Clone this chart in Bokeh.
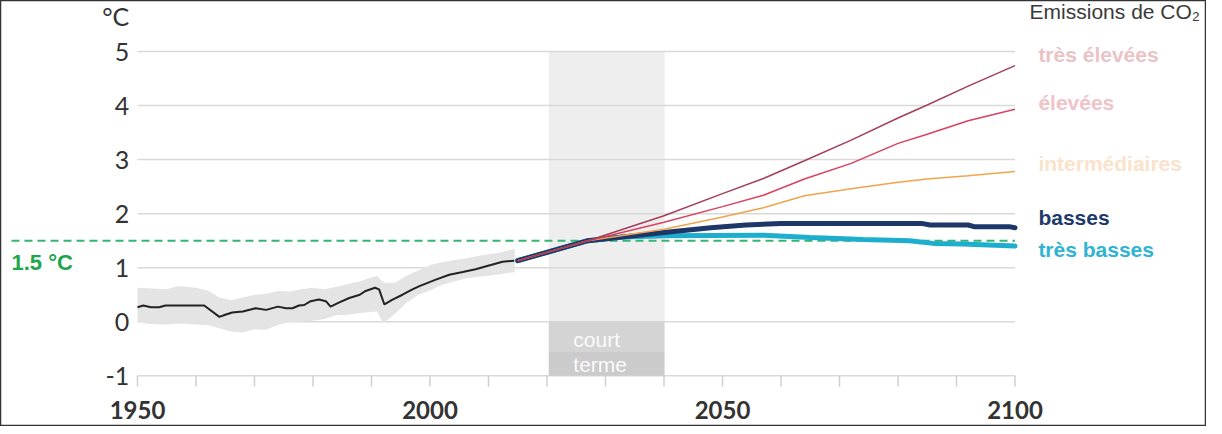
from bokeh.plotting import figure
from bokeh.models import Range1d
from bokeh.core.properties import value
from bokeh.embed import file_html
from bokeh.resources import INLINE

# ---------------- data ----------------
hist_years = [1950, 1951, 1952.3, 1953.7, 1954.8, 1961.4, 1964, 1965, 1966.2, 1968,
              1970.2, 1972, 1974, 1975.4, 1976.5, 1977.6, 1978.5, 1979.6, 1981, 1982.2,
              1983, 1984.5, 1986.2, 1988, 1989, 1990.6, 1991.3, 1992.2, 1993.6, 1995.3,
              1997, 1998.2, 2001, 2003.3, 2005.6, 2007.8, 2010.7, 2012.4, 2014.4]
hist_vals = [0.27, 0.30, 0.27, 0.27, 0.30, 0.30, 0.09, 0.13, 0.17, 0.19,
             0.25, 0.22, 0.28, 0.25, 0.25, 0.30, 0.31, 0.38, 0.41, 0.38,
             0.28, 0.36, 0.44, 0.50, 0.57, 0.63, 0.60, 0.32, 0.41, 0.50,
             0.60, 0.66, 0.78, 0.87, 0.92, 0.97, 1.06, 1.11, 1.13]

band_years = [1950, 1952, 1955, 1957, 1960, 1962, 1964, 1966, 1968, 1970, 1972, 1974,
              1976, 1978, 1980, 1982, 1984, 1986, 1988, 1990, 1991, 1992, 1994, 1996,
              1998, 2000, 2002, 2004, 2006, 2008, 2010, 2012, 2014.5]
band_high = [0.63, 0.62, 0.60, 0.66, 0.63, 0.58, 0.45, 0.40, 0.45, 0.50, 0.52, 0.57,
             0.56, 0.60, 0.63, 0.60, 0.65, 0.70, 0.75, 0.82, 0.85, 0.72, 0.72, 0.85,
             0.95, 1.05, 1.10, 1.14, 1.17, 1.21, 1.25, 1.28, 1.35]
band_low = [0.00, -0.04, -0.05, -0.03, -0.05, -0.06, -0.12, -0.18, -0.20, -0.14, -0.15, -0.06,
            -0.01, 0.00, 0.02, 0.05, 0.12, 0.13, 0.16, 0.18, 0.19, -0.03, 0.15, 0.35,
            0.50, 0.58, 0.68, 0.74, 0.80, 0.83, 0.85, 0.88, 0.92]

proj_years = [2015, 2027, 2040, 2050, 2057, 2064, 2072, 2080, 2085, 2092, 2100]
very_high = [1.13, 1.50, 1.96, 2.37, 2.65, 2.98, 3.36, 3.77, 4.01, 4.36, 4.74]
high = [1.13, 1.50, 1.84, 2.13, 2.34, 2.64, 2.93, 3.30, 3.47, 3.72, 3.93]
intermediate = [1.13, 1.50, 1.71, 1.94, 2.11, 2.33, 2.46, 2.58, 2.64, 2.70, 2.78]

low_years = [2015, 2027, 2040, 2048, 2054, 2060, 2084, 2085.5, 2092, 2093, 2099, 2100]
low = [1.13, 1.50, 1.65, 1.74, 1.79, 1.82, 1.82, 1.79, 1.79, 1.76, 1.76, 1.74]

very_low_years = [2015, 2027, 2033, 2040, 2057, 2065, 2074, 2082, 2086, 2091, 2100]
very_low = [1.13, 1.50, 1.57, 1.59, 1.60, 1.56, 1.52, 1.50, 1.45, 1.44, 1.40]

threshold = 1.5
threshold_x = [1928.46, 2100]
near_term = [2020.3, 2040.1]

y_ticks = [-1, 0, 1, 2, 3, 4, 5]
y_tick_labels = ["-1", "0", "1", "2", "3", "4", "5"]
x_ticks = [1950, 1960, 1970, 1980, 1990, 2000, 2010, 2020, 2030, 2040,
           2050, 2060, 2070, 2080, 2090, 2100]
x_label_ticks = [1950, 2000, 2050, 2100]
x_tick_labels = ["1950", "2000", "2050", "2100"]

scenario_labels = ["très élevées", "élevées", "intermédiaires", "basses", "très basses"]

# ---------------- figure ----------------
p = figure(width=1206, height=426,
           x_range=Range1d(1926.58, 2132.74), y_range=Range1d(-1.938, 5.944),
           x_axis_type=None, y_axis_type=None,
           output_backend="svg", toolbar_location=None, min_border=0)
p.grid.visible = False
p.outline_line_color = "#333333"
p.outline_line_width = 1.5
p.background_fill_color = "white"
p.border_fill_color = "white"

# near-term band
p.quad(left=[near_term[0]], right=[near_term[1]], bottom=[0], top=[y_ticks[-1]],
       fill_color="#eeeeee", line_color=None)

# gridlines
n = len(y_ticks)
p.segment(x0=[x_ticks[0]] * n, x1=[x_ticks[-1]] * n, y0=y_ticks, y1=y_ticks,
          line_color="#d9d9d9", line_width=1.5)

# "court terme" box
p.quad(left=[near_term[0]], right=[near_term[1]], bottom=[-0.56], top=[0],
       fill_color="#d4d4d4", line_color=None)
p.quad(left=[near_term[0]], right=[near_term[1]], bottom=[y_ticks[0]], top=[-0.56],
       fill_color="#cbcbcb", line_color=None)
p.text(x=[near_term[0] + 4.2] * 2, y=[-0.33, -0.79], text=["court", "terme"],
       text_font=value("Liberation Sans"), text_font_size="21px",
       text_color="#fafafa", text_align="left", text_baseline="middle")

# x ticks
m = len(x_ticks)
p.segment(x0=x_ticks, x1=x_ticks, y0=[y_ticks[0]] * m, y1=[y_ticks[0] - 0.2] * m,
          line_color="#cfcfcf", line_width=1.5)

# historical uncertainty band and line
p.varea(x=band_years, y1=band_low, y2=band_high, fill_color="#e4e4e4")
p.line(hist_years, hist_vals, line_color="#222222", line_width=2)

# 1.5 °C threshold
p.line(threshold_x, [threshold, threshold], line_color="#34b571", line_width=2,
       line_dash="8 5")

# projections
p.line(very_low_years, very_low, line_color="#1eaecd", line_width=5, line_cap="round")
p.line(low_years, low, line_color="#1d3769", line_width=5, line_cap="round")
p.line(proj_years, intermediate, line_color="#f0a54c", line_width=1.5)
p.line(proj_years, high, line_color="#dd405e", line_width=1.5)
p.line(proj_years, very_high, line_color="#a33f58", line_width=1.5)

# y tick labels
p.text(x=[1948.6] * n, y=y_ticks, text=y_tick_labels, text_font=value("Lato"),
       text_font_size="25px", text_color="#333333", text_align="right",
       text_baseline="middle")
p.text(x=[1948.6], y=[5.65], text=["°C"], text_font=value("Lato"),
       text_font_size="25px", text_color="#333333", text_align="right",
       text_baseline="middle")

# x tick labels
p.text(x=x_label_ticks, y=[-1.64] * len(x_label_ticks), text=x_tick_labels,
       text_font=value("Lato"), text_font_size="24px", text_font_style="bold",
       text_color="#333333", text_align="center", text_baseline="middle")

# threshold label
p.text(x=[1928.46], y=[1.10], text=["1.5 °C"], text_font=value("Liberation Sans"),
       text_font_size="22px", text_font_style="bold", text_color="#1ea64c",
       text_align="left", text_baseline="middle")

# scenario labels
p.text(x=[2102.5], y=[5.74], text=["Emissions de CO₂"],
       text_font=value("Liberation Sans"), text_font_size="21px",
       text_color="#3a3a3a", text_align="left", text_baseline="middle")
label_y = [4.945, 4.06, 2.93, 1.93, 1.34]
label_colors = ["#e9c3c7", "#efc3c8", "#fbe2ca", "#1e3a6b", "#30b3d1"]
p.text(x=[2104] * len(scenario_labels), y=label_y, text=scenario_labels,
       text_font=value("Liberation Sans"), text_font_size="21px",
       text_font_style="bold", text_color=label_colors,
       text_align="left", text_baseline="middle")

open("out.html", "w").write(file_html(p, INLINE))
